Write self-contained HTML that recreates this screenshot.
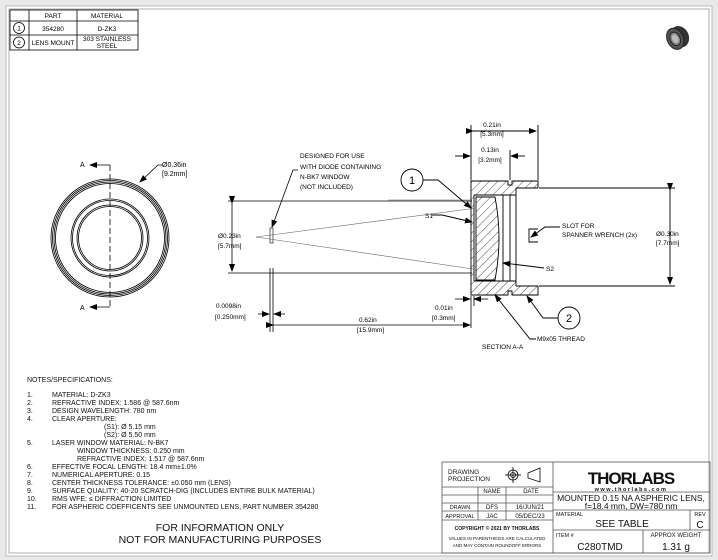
<!DOCTYPE html>
<html><head><meta charset="utf-8"><style>
html,body{margin:0;padding:0;background:#e6e6e6;}
svg{display:block;font-family:"Liberation Sans",sans-serif;}
</style></head><body>
<svg width="718" height="560" viewBox="0 0 718 560" xmlns="http://www.w3.org/2000/svg">
<defs>
<pattern id="h" width="6" height="6" patternUnits="userSpaceOnUse" patternTransform="rotate(45)"><line x1="0" y1="0" x2="0" y2="6" stroke="#222" stroke-width="0.8"/></pattern>
<marker id="a" markerWidth="8" markerHeight="6" refX="7" refY="3" orient="auto" markerUnits="userSpaceOnUse"><path d="M0,0 L8,3 L0,6z" fill="#000"/></marker>
</defs>
<rect x="0" y="0" width="718" height="560" fill="#e9e9e9"/>
<rect x="6" y="6" width="706" height="550" fill="#fff" stroke="#bbb"/>
<rect x="9" y="9" width="700" height="544" fill="#fff" stroke="#999" stroke-width="0.8"/>

<!-- parts table -->
<g stroke="#000" stroke-width="0.8" fill="none">
<rect x="10" y="10" width="128" height="40"/>
<line x1="29" y1="10" x2="29" y2="50"/><line x1="77" y1="10" x2="77" y2="50"/>
<line x1="10" y1="21" x2="138" y2="21"/><line x1="10" y1="35" x2="138" y2="35"/>
<circle cx="19" cy="28" r="5.5"/><circle cx="19" cy="42.5" r="5.5"/>
</g>
<g font-size="6.5" text-anchor="middle" fill="#000">
<text x="53" y="18">PART</text><text x="107" y="18">MATERIAL</text>
<text x="53" y="31">354280</text><text x="107" y="31">D-ZK3</text>
<text x="53" y="45">LENS MOUNT</text><text x="107" y="41">303 STAINLESS</text><text x="107" y="48">STEEL</text>
<text x="19" y="30.5">1</text><text x="19" y="45">2</text>
</g>

<!-- product image -->
<g transform="translate(677,38) rotate(-25)">
<ellipse cx="3" cy="0" rx="9" ry="11" fill="#333"/>
<ellipse cx="-2" cy="0" rx="8" ry="11" fill="#555" stroke="#222"/>
<ellipse cx="-2" cy="0" rx="5" ry="7" fill="#888" stroke="#222"/>
<ellipse cx="-2" cy="0" rx="3" ry="4.5" fill="#bbb"/>
</g>

<!-- front view -->
<g stroke="#000" fill="none" stroke-width="0.8">
<circle cx="110" cy="238" r="59"/><circle cx="110" cy="238" r="57.5"/><circle cx="110" cy="238" r="56"/><circle cx="110" cy="238" r="54.5"/>
<circle cx="110" cy="238" r="39"/><circle cx="110" cy="238" r="37.5"/><circle cx="110" cy="238" r="33"/><circle cx="110" cy="238" r="31.5"/>
<line x1="110" y1="165" x2="110" y2="308" stroke-dasharray="6,3"/>
<line x1="110" y1="165" x2="90" y2="165" marker-end="url(#a)"/>
<line x1="110" y1="307" x2="90" y2="307" marker-end="url(#a)"/>
<path d="M162,165 L158,165 L140,182" marker-end="url(#a)"/>
</g>
<g font-size="7" fill="#000">
<text x="80" y="167">A</text><text x="80" y="310">A</text>
<text x="162" y="167">Ø0.36in</text><text x="162" y="176">[9.2mm]</text>
</g>

<!-- side view -->
<g stroke="#000" fill="none" stroke-width="0.8">
<line x1="228" y1="201" x2="472" y2="201"/><line x1="228" y1="273" x2="472" y2="273"/>
<line x1="232" y1="203" x2="232" y2="271" marker-start="url(#a)" marker-end="url(#a)"/>
<rect x="270" y="228" width="3" height="15" stroke-width="0.6"/>
<line x1="270" y1="268" x2="270" y2="332"/><line x1="273" y1="268" x2="273" y2="332"/>
<line x1="256" y1="237" x2="500" y2="205" stroke="#666" stroke-width="0.6"/>
<line x1="256" y1="237" x2="500" y2="273" stroke="#666" stroke-width="0.6"/>
<path d="M298,170 L293,170 L272,227" marker-end="url(#a)"/>
<line x1="258" y1="314" x2="269" y2="314" marker-end="url(#a)"/><line x1="285" y1="314" x2="274" y2="314" marker-end="url(#a)"/>
<line x1="273" y1="325" x2="470" y2="325" marker-start="url(#a)" marker-end="url(#a)"/>
<line x1="455" y1="299" x2="470" y2="299" marker-end="url(#a)"/><line x1="488" y1="299" x2="474" y2="299" marker-end="url(#a)"/>
<line x1="471" y1="296" x2="471" y2="328"/><line x1="474" y1="296" x2="474" y2="306"/>
</g>
<g font-size="6.5" fill="#000">
<text x="300" y="158">DESIGNED FOR USE</text><text x="300" y="169">WITH DIODE CONTAINING</text><text x="300" y="179">N-BK7 WINDOW</text><text x="300" y="189">(NOT INCLUDED)</text>
<text x="218" y="238">Ø0.23in</text><text x="218" y="248">[5.7mm]</text>
<text x="216" y="308">0.0098in</text><text x="215" y="319">[0.250mm]</text>
<text x="359" y="322">0.62in</text><text x="357" y="332">[15.9mm]</text>
<text x="435" y="310">0.01in</text><text x="432" y="320">[0.3mm]</text>
</g>

<!-- section -->
<g stroke="#000" fill="none" stroke-width="0.9">
<path d="M471,181 L508,181 L508,185 L512,185 L512,181 L538,181 L538,295 L512,295 L512,291 L508,291 L508,295 L471,295 Z" fill="url(#h)"/>
<rect x="474" y="195" width="42" height="86" fill="#fff" stroke="none"/>
<rect x="516" y="188" width="23" height="98" fill="#fff" stroke="none"/>
<line x1="516" y1="188" x2="538" y2="188"/><line x1="516" y1="286" x2="538" y2="286"/><line x1="516" y1="188" x2="516" y2="286"/>
<line x1="474" y1="195" x2="516" y2="195"/><line x1="474" y1="281" x2="516" y2="281"/>
<line x1="474" y1="195" x2="474" y2="281"/>
<line x1="503" y1="195" x2="503" y2="281"/><line x1="510" y1="195" x2="510" y2="281"/>
<path d="M476,197 L495,197 Q503,238 495,280 L476,280 Z" fill="url(#h)"/>
<path d="M538,229 L529,229 L529,242 L538,242"/>
<line x1="388" y1="200" x2="472" y2="200" stroke="#666" stroke-width="0.6"/>
<line x1="471" y1="125" x2="471" y2="180"/><line x1="538" y1="125" x2="538" y2="180"/>
<line x1="510" y1="150" x2="510" y2="180"/>
<line x1="473" y1="131" x2="536" y2="131" marker-start="url(#a)" marker-end="url(#a)"/>
<line x1="455" y1="156" x2="470" y2="156" marker-end="url(#a)"/><line x1="525" y1="156" x2="511" y2="156" marker-end="url(#a)"/>
<line x1="539" y1="188" x2="675" y2="188"/><line x1="539" y1="286" x2="675" y2="286"/>
<line x1="670" y1="190" x2="670" y2="284" marker-start="url(#a)" marker-end="url(#a)"/>
<circle cx="412" cy="180" r="11"/><circle cx="569" cy="318" r="11"/>
<path d="M423,180 L438,180 L471,208" marker-end="url(#a)"/>
<path d="M432,215 L442,215 L472,222" marker-end="url(#a)"/>
<path d="M544,268 L520,265 L503,263" marker-end="url(#a)"/>
<path d="M560,227 L545,227 L531,237" marker-end="url(#a)"/>
<path d="M558,318 L543,318 L527,296" marker-end="url(#a)"/>
<path d="M536,339 L530,339 L495,295" marker-end="url(#a)"/>
</g>
<g font-size="6.5" fill="#000">
<text x="492" y="127" text-anchor="middle">0.21in</text><text x="492" y="136" text-anchor="middle">[5.3mm]</text>
<text x="490" y="152" text-anchor="middle">0.13in</text><text x="490" y="162" text-anchor="middle">[3.2mm]</text>
<text x="425" y="218">S1</text><text x="546" y="271">S2</text>
<text x="562" y="228">SLOT FOR</text><text x="562" y="237">SPANNER WRENCH (2x)</text>
<text x="656" y="236">Ø0.30in</text><text x="656" y="245">[7.7mm]</text>
<text x="482" y="349">SECTION A-A</text><text x="537" y="341">M9x05 THREAD</text>
</g>
<g font-size="11" text-anchor="middle"><text x="412" y="184">1</text><text x="569" y="322">2</text></g>

<!-- notes -->
<g font-size="7" fill="#111">
<text x="27" y="382">NOTES/SPECIFICATIONS:</text>
<text x="27" y="397">1.</text><text x="52" y="397">MATERIAL: D-ZK3</text>
<text x="27" y="405">2.</text><text x="52" y="405">REFRACTIVE INDEX: 1.586 @ 587.6nm</text>
<text x="27" y="413">3.</text><text x="52" y="413">DESIGN WAVELENGTH: 780 nm</text>
<text x="27" y="421">4.</text><text x="52" y="421">CLEAR APERTURE:</text>
<text x="104" y="429">(S1): Ø 5.15 mm</text><text x="104" y="437">(S2): Ø 5.50 mm</text>
<text x="27" y="445">5.</text><text x="52" y="445">LASER WINDOW MATERIAL: N-BK7</text>
<text x="77" y="453">WINDOW THICKNESS: 0.250 mm</text><text x="77" y="461">REFRACTIVE INDEX: 1.517 @ 587.6nm</text>
<text x="27" y="469">6.</text><text x="52" y="469">EFFECTIVE FOCAL LENGTH: 18.4 mm±1.0%</text>
<text x="27" y="477">7.</text><text x="52" y="477">NUMERICAL APERTURE: 0.15</text>
<text x="27" y="485">8.</text><text x="52" y="485">CENTER THICKNESS TOLERANCE: ±0.050 mm (LENS)</text>
<text x="27" y="493">9.</text><text x="52" y="493">SURFACE QUALITY: 40-20 SCRATCH-DIG (INCLUDES ENTIRE BULK MATERIAL)</text>
<text x="27" y="501">10.</text><text x="52" y="501">RMS WFE: ≤ DIFFRACTION LIMITED</text>
<text x="27" y="509">11.</text><text x="52" y="509">FOR ASPHERIC COEFFICENTS SEE UNMOUNTED LENS, PART NUMBER 354280</text>
</g>
<g font-size="10.5" text-anchor="middle" fill="#111">
<text x="220" y="531">FOR INFORMATION ONLY</text><text x="220" y="543">NOT FOR MANUFACTURING PURPOSES</text>
</g>

<!-- title block -->
<g stroke="#555" stroke-width="0.8" fill="none">
<rect x="442" y="462" width="268" height="91"/>
<line x1="553" y1="462" x2="553" y2="553"/>
<line x1="442" y1="487" x2="553" y2="487"/><line x1="442" y1="495" x2="553" y2="495"/>
<line x1="442" y1="503" x2="553" y2="503"/><line x1="442" y1="511" x2="553" y2="511"/><line x1="442" y1="520" x2="553" y2="520"/>
<line x1="478" y1="487" x2="478" y2="520"/><line x1="506" y1="487" x2="506" y2="520"/>
<line x1="553" y1="492" x2="710" y2="492"/><line x1="553" y1="510" x2="710" y2="510"/><line x1="553" y1="530" x2="710" y2="530"/>
<line x1="690" y1="510" x2="690" y2="530"/><line x1="643" y1="530" x2="643" y2="553"/>
<circle cx="513" cy="475" r="5" stroke="#000"/><circle cx="513" cy="475" r="2.5" stroke="#000"/>
<line x1="505" y1="475" x2="521" y2="475" stroke="#000"/><line x1="513" y1="467" x2="513" y2="483" stroke="#000"/>
<path d="M528,473 L540,468 L540,482 L528,478 Z" stroke="#000"/>
</g>
<g fill="#111">
<text x="448" y="474" font-size="6.5">DRAWING</text><text x="448" y="481" font-size="6.5">PROJECTION</text>
<text x="492" y="493" font-size="6" text-anchor="middle">NAME</text><text x="531" y="493" font-size="6" text-anchor="middle">DATE</text>
<text x="460" y="509" font-size="5.5" text-anchor="middle">DRAWN</text><text x="492" y="509" font-size="6" text-anchor="middle">DFS</text><text x="530" y="509" font-size="6" text-anchor="middle">16/JUN/21</text>
<text x="460" y="518" font-size="5.5" text-anchor="middle">APPROVAL</text><text x="492" y="518" font-size="6" text-anchor="middle">JAC</text><text x="530" y="518" font-size="6" text-anchor="middle">05/DEC/23</text>
<text x="497" y="530" font-size="5" font-weight="bold" text-anchor="middle">COPYRIGHT © 2021 BY THORLABS</text>
<text x="497" y="540" font-size="4.5" text-anchor="middle">VALUES IN PARENTHESIS ARE CALCULATED</text>
<text x="497" y="547" font-size="4.5" text-anchor="middle">AND MAY CONTAIN ROUNDOFF ERRORS</text>
<text x="631" y="484" font-size="17" font-weight="bold" text-anchor="middle" letter-spacing="-1">THORLABS</text>
<text x="631" y="491" font-size="5.5" font-weight="bold" text-anchor="middle" letter-spacing="1.5">www.thorlabs.com</text>
<text x="631" y="501" font-size="8.5" text-anchor="middle">MOUNTED 0.15 NA ASPHERIC LENS,</text>
<text x="631" y="509" font-size="8.5" text-anchor="middle">f=18.4 mm, DW=780 nm</text>
<text x="556" y="516" font-size="5.5">MATERIAL</text>
<text x="622" y="527" font-size="10" text-anchor="middle">SEE TABLE</text>
<text x="700" y="516" font-size="5.5" text-anchor="middle">REV</text><text x="700" y="528" font-size="10" text-anchor="middle">C</text>
<text x="556" y="537" font-size="5.5">ITEM #</text>
<text x="600" y="550" font-size="10" text-anchor="middle">C280TMD</text>
<text x="676" y="537" font-size="6" text-anchor="middle">APPROX WEIGHT</text>
<text x="676" y="550" font-size="10" text-anchor="middle">1.31 g</text>
</g>
</svg>
</body></html>
